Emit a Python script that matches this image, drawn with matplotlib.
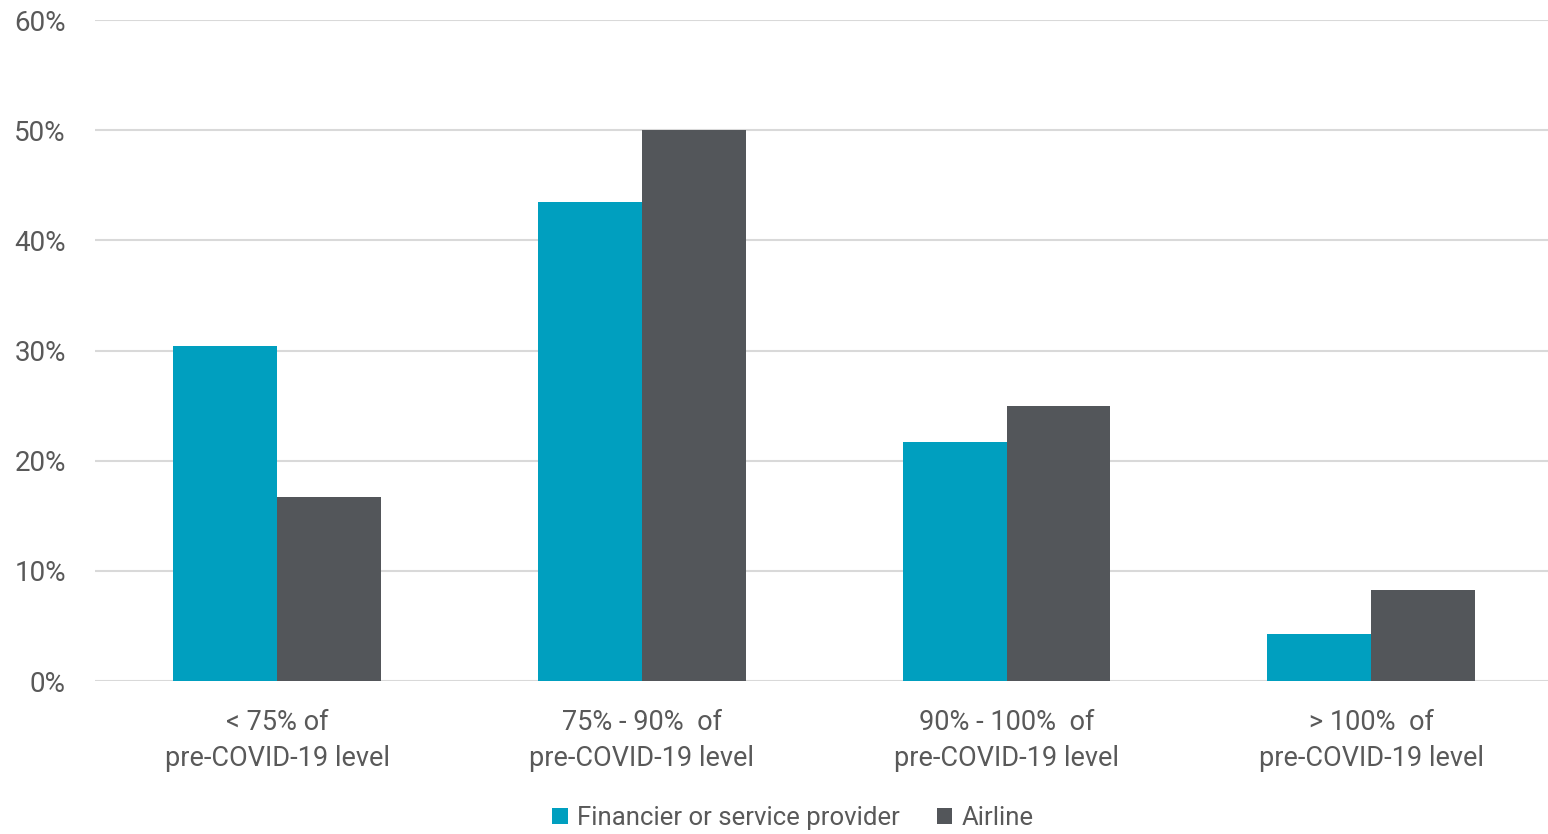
import matplotlib
matplotlib.use("Agg")
import matplotlib.pyplot as plt
import numpy as np
from matplotlib.ticker import FuncFormatter

categories = ["< 75% of\npre-COVID-19 level", "75% - 90%  of\npre-COVID-19 level",
              "90% - 100%  of\npre-COVID-19 level", "> 100%  of\npre-COVID-19 level"]
financier = [30.4, 43.5, 21.7, 4.3]
airline = [16.7, 50.0, 25.0, 8.3]
series_names = ["Financier or service provider", "Airline"]

teal = "#009FBF"
grey = "#53565A"
txt = "#595959"

plt.rcParams['font.family'] = ['Roboto', 'DejaVu Sans']

fig = plt.figure(figsize=(15.48, 8.34), dpi=100)
ax = fig.add_axes([95/1548, 1 - 681/834, 1 - 95/1548, (681 - 20)/834])

x = np.arange(len(categories))
w = 0.285
ax.bar(x - w/2, financier, w, color=teal, label=series_names[0], zorder=3)
ax.bar(x + w/2, airline, w, color=grey, label=series_names[1], zorder=3)

ax.set_xlim(-0.5, len(categories) - 0.515)
ax.set_ylim(0, 60)
ax.set_yticks(np.arange(0, 61, 10))
ax.yaxis.set_major_formatter(FuncFormatter(lambda v, p: f"{int(v)}%"))
ax.grid(axis='y', color='#D9D9D9', linewidth=1.5, zorder=0)
for s in ax.spines.values():
    s.set_visible(False)
ax.tick_params(axis='both', length=0, labelsize=20, colors=txt)
ax.tick_params(axis='y', pad=21)
ax.set_xticks(x)
ax.set_xticklabels(categories, fontsize=19.5, color=txt, linespacing=1.42)
ax.tick_params(axis='x', pad=20)

leg = fig.legend(loc='center', bbox_to_anchor=(793/1548, 1 - 818/834), ncol=2,
                 frameon=False, fontsize=18.5, handlelength=0.6, handleheight=0.6,
                 handletextpad=0.35, columnspacing=1.45, labelcolor=txt)

fig.savefig("out.png", dpi=100)
